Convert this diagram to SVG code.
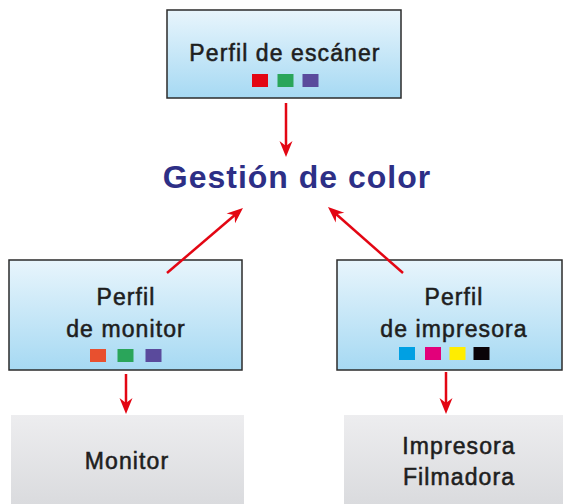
<svg xmlns="http://www.w3.org/2000/svg" width="563" height="504" viewBox="0 0 563 504">
<defs>
<linearGradient id="gBlue" x1="0" y1="0" x2="0" y2="1">
<stop offset="0" stop-color="#e8f5fc"/>
<stop offset="1" stop-color="#a6d9f3"/>
</linearGradient>
<linearGradient id="gGray" x1="0" y1="0" x2="0" y2="1">
<stop offset="0" stop-color="#ededef"/>
<stop offset="1" stop-color="#dadbde"/>
</linearGradient>
<marker id="ah" viewBox="-17 -7 18 14" markerWidth="18" markerHeight="14" refX="-8" refY="0" orient="auto" markerUnits="userSpaceOnUse">
<path d="M0,0 L-16,-6.5 L-11,0 L-16,6.5 Z" fill="#e30613"/>
</marker>
<style>
.pbox{fill:url(#gBlue);stroke:#2b2b2b;stroke-width:1.5}
.gbox{fill:url(#gGray)}
.lbl{font-family:"Liberation Sans",Arial,sans-serif;font-size:23px;fill:#1e1e1e;stroke:#1e1e1e;stroke-width:0.55px;text-anchor:middle;letter-spacing:1.1px}
.title{font-family:"Liberation Sans",Arial,sans-serif;font-size:32px;font-weight:bold;fill:#2d2f86;text-anchor:middle;letter-spacing:1px}
.conn{stroke:#e30613;stroke-width:2.5;fill:none;marker-end:url(#ah)}
</style>
</defs>

<g id="perfil-escaner">
<rect class="pbox" x="167" y="10" width="234" height="88"/>
<text class="lbl" x="285" y="61">Perfil de escáner</text>
<rect x="252" y="74" width="16" height="13" fill="#e30613"/>
<rect x="277.5" y="74" width="16" height="13" fill="#2aa55a"/>
<rect x="302.5" y="74" width="16" height="13" fill="#5a4a9c"/>
</g>

<g id="gestion-color">
<text class="title" x="297" y="188">Gestión de color</text>
</g>

<g id="perfil-monitor">
<rect class="pbox" x="9" y="260" width="233" height="110"/>
<text class="lbl" x="126" y="305">Perfil</text>
<text class="lbl" x="126" y="337">de monitor</text>
<rect x="90" y="349" width="16" height="13" fill="#e8502f"/>
<rect x="117.5" y="349" width="16" height="13" fill="#2aa55a"/>
<rect x="145.5" y="349" width="16" height="13" fill="#5a4a9c"/>
</g>

<g id="perfil-impresora">
<rect class="pbox" x="337" y="260" width="225" height="110"/>
<text class="lbl" x="454" y="305">Perfil</text>
<text class="lbl" x="454" y="337">de impresora</text>
<rect x="399" y="347" width="16" height="13" fill="#00a0e3"/>
<rect x="425" y="347" width="16" height="13" fill="#e2007a"/>
<rect x="449.5" y="347" width="16" height="13" fill="#ffed00"/>
<rect x="473.5" y="347" width="16" height="13" fill="#0a0308"/>
</g>

<g id="monitor">
<rect class="gbox" x="11" y="415" width="233" height="89"/>
<text class="lbl" x="127" y="469">Monitor</text>
</g>

<g id="impresora">
<rect class="gbox" x="344" y="415" width="219" height="89"/>
<text class="lbl" x="459" y="454">Impresora</text>
<text class="lbl" x="459" y="485">Filmadora</text>
</g>

<g id="connectors">
<path class="conn" d="M286,103 L286,149"/>
<path class="conn" d="M167,273 L236.9,213.2"/>
<path class="conn" d="M403,273 L334,212.3"/>
<path class="conn" d="M126,374 L126,406"/>
<path class="conn" d="M446,372 L446,406"/>
</g>
</svg>
